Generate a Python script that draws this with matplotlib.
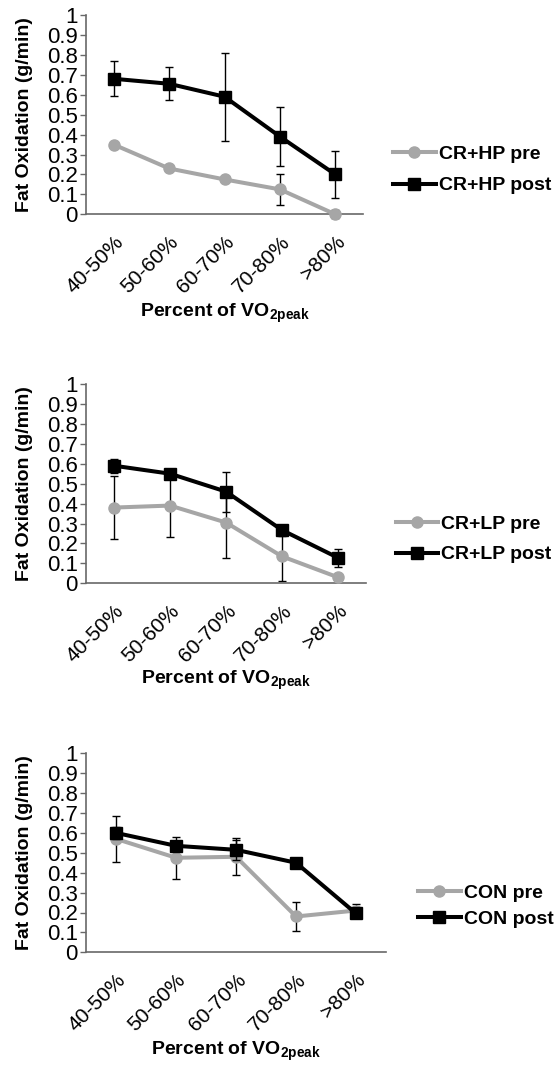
import numpy as np
import matplotlib.pyplot as plt
from matplotlib.transforms import ScaledTranslation

plt.rcParams['font.family'] = ['Liberation Sans', 'DejaVu Sans']
plt.rcParams['mathtext.fontset'] = 'custom'
plt.rcParams['mathtext.rm'] = 'Liberation Sans'
plt.rcParams['mathtext.bf'] = 'Liberation Sans:bold'

# Intensidades de ejercicio (porcentaje de VO2peak)
intensidades = ['40-50%', '50-60%', '60-70%', '70-80%', '>80%']

# CR+HP
hp_pre = [0.35, 0.23, 0.175, 0.125, 0.0]
hp_pre_err = [0.0, 0.015, 0.0, 0.078, 0.02]
hp_post = [0.68, 0.655, 0.59, 0.39, 0.20]
hp_post_err = [0.088, 0.083, 0.22, 0.146, 0.12]

# CR+LP
lp_pre = [0.38, 0.39, 0.305, 0.135, 0.03]
lp_pre_err = [0.157, 0.16, 0.177, 0.125, 0.0]
lp_post = [0.59, 0.55, 0.46, 0.267, 0.128]
lp_post_err = [0.035, 0.02, 0.10, 0.028, 0.045]

# CON
con_pre = [0.57, 0.475, 0.48, 0.18, 0.21]
con_pre_err = [0.115, 0.105, 0.092, 0.075, 0.035]
con_post = [0.60, 0.535, 0.515, 0.45, 0.195]
con_post_err = [0.03, 0.025, 0.05, 0.0, 0.015]

W, H = 559, 1065
fig = plt.figure(figsize=(W / 100, H / 100), dpi=100)

GRIS = '#A6A6A6'
EJE = '#686868'


def ejes_px(izq, arriba, der, abajo):
    """Crea unos ejes a partir de una caja en pixeles."""
    return fig.add_axes([izq / W, 1 - abajo / H, (der - izq) / W, (abajo - arriba) / H])


def dibujar_panel(ax, pre, pre_err, post, post_err, etiquetas, leg_x, leg_y, espacio):
    x = np.arange(len(intensidades))
    ax.errorbar(x, pre, yerr=pre_err, fmt='none', ecolor='black', elinewidth=1,
                capsize=3.2, capthick=1, zorder=2, clip_on=False)
    ax.plot(x, pre, color=GRIS, lw=2.9, marker='o', ms=8, label=etiquetas[0],
            zorder=3, clip_on=False)
    ax.errorbar(x, post, yerr=post_err, fmt='none', ecolor='black', elinewidth=1,
                capsize=3.2, capthick=1, zorder=4, clip_on=False)
    ax.plot(x, post, color='black', lw=2.9, marker='s', ms=8.5, label=etiquetas[1],
            zorder=5, clip_on=False)

    ax.set_xlim(-0.5, len(intensidades) - 0.5)
    ax.set_ylim(0, 1)
    ax.set_yticks(np.arange(0, 1.01, 0.1))
    ax.set_yticklabels(['0'] + ['%.1f' % v for v in np.arange(0.1, 0.95, 0.1)] + ['1'])
    ax.set_xticks(x)
    ax.set_xticklabels(intensidades, rotation=45, ha='right', va='top',
                       rotation_mode='anchor')
    desplazar = ScaledTranslation(4 / 100, 0, fig.dpi_scale_trans)
    for t in ax.get_xticklabels():
        t.set_transform(t.get_transform() + desplazar)

    for lado in ['top', 'right']:
        ax.spines[lado].set_visible(False)
    for lado in ['left', 'bottom']:
        ax.spines[lado].set_color(EJE)
        ax.spines[lado].set_linewidth(1.2)
    ax.tick_params(axis='y', direction='out', length=4, width=1, color=EJE,
                   labelsize=16, pad=2)
    ax.tick_params(axis='x', length=0, labelsize=15, pad=13)

    ax.set_ylabel('Fat Oxidation (g/min)', fontsize=14, fontweight='bold')
    ax.set_xlabel(r'Percent of VO$_\mathbf{2peak}$', fontsize=14, fontweight='bold')

    ax.legend(loc='center left', bbox_to_anchor=(leg_x, leg_y), frameon=False,
              prop={'weight': 'bold', 'size': 14}, handlelength=2.2,
              handletextpad=0.15, labelspacing=espacio, borderpad=0, borderaxespad=0)


ax1 = ejes_px(86, 15, 363, 214.3)
dibujar_panel(ax1, hp_pre, hp_pre_err, hp_post, hp_post_err,
              ['CR+HP pre', 'CR+HP post'], 1.108, 0.223, 0.72)
ax1.yaxis.set_label_coords(-0.19, 0.5)
ax1.xaxis.set_label_coords(0.5, -0.44)

ax2 = ejes_px(86, 384, 366, 583.3)
dibujar_panel(ax2, lp_pre, lp_pre_err, lp_post, lp_post_err,
              ['CR+LP pre', 'CR+LP post'], 1.106, 0.221, 0.67)
ax2.yaxis.set_label_coords(-0.188, 0.5)
ax2.xaxis.set_label_coords(0.5, -0.43)

ax3 = ejes_px(86, 753.3, 386, 952.3)
dibujar_panel(ax3, con_pre, con_pre_err, con_post, con_post_err,
              ['CON pre', 'CON post'], 1.107, 0.232, 0.46)
ax3.yaxis.set_label_coords(-0.176, 0.5)
ax3.xaxis.set_label_coords(0.5, -0.44)

fig.savefig('out.png', dpi=100)
plt.close(fig)
